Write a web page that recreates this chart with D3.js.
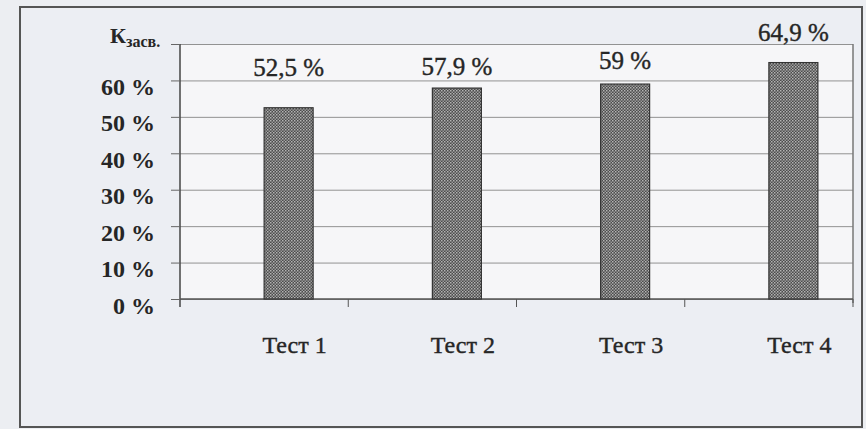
<!DOCTYPE html>
<html>
<head>
<meta charset="utf-8">
<script src="https://cdn.jsdelivr.net/npm/d3@7"></script>
<style>
  html, body { margin: 0; padding: 0; background: #eceef2; }
  svg { display: block; }
</style>
</head>
<body>
<svg id="chart" width="866" height="429" font-family="Liberation Serif, serif"></svg>
<script>
// data
const categories = ["Тест 1", "Тест 2", "Тест 3", "Тест 4"];
const values = [52.5, 57.9, 59, 64.9];
const valueLabels = ["52,5 %", "57,9 %", "59 %", "64,9 %"];
const yTicks = [0, 10, 20, 30, 40, 50, 60, 70];

// labels were placed by hand in the original, lift above bar top (px)
const labelLift = [32, 13, 15, 22];

const serif = "Liberation Serif, serif";
const ink = "#262626";
const svg = d3.select("#chart");
const plot = { left: 180, right: 853, top: 44, bottom: 299 };

const x = d3.scaleBand()
  .domain(categories)
  .range([plot.left, plot.right]);

const y = d3.scaleLinear()
  .domain([0, 70])
  .range([plot.bottom, plot.top]);

const barW = 49;

// pattern for the dotted bar fill
const defs = svg.append("defs");
const pat = defs.append("pattern")
  .attr("id", "dots")
  .attr("width", 3).attr("height", 3)
  .attr("patternUnits", "userSpaceOnUse");
pat.append("rect").attr("width", 3).attr("height", 3).attr("fill", "#4c4c4c");
pat.append("rect").attr("x", 0).attr("y", 0).attr("width", 1.5).attr("height", 1.5).attr("fill", "#b4b4b4");
pat.append("rect").attr("x", 1.5).attr("y", 1.5).attr("width", 1.5).attr("height", 1.5).attr("fill", "#9a9a9a");

// outer frame
svg.append("rect")
  .attr("x", 20).attr("y", 7)
  .attr("width", 842).attr("height", 420)
  .attr("fill", "#eceef3")
  .attr("stroke", "#555")
  .attr("stroke-width", 2);

// plot area
svg.append("rect")
  .attr("x", plot.left).attr("y", plot.top)
  .attr("width", plot.right - plot.left)
  .attr("height", plot.bottom - plot.top)
  .attr("fill", "#f6f6f8");

// gridlines
svg.append("g")
  .attr("transform", `translate(${plot.left},0)`)
  .call(d3.axisLeft(y).tickValues(yTicks).tickSize(-(plot.right - plot.left)).tickFormat(""))
  .call(g => g.select(".domain").remove())
  .call(g => g.selectAll(".tick line").attr("stroke", "#929292").attr("stroke-width", 1));

// right border of plot
svg.append("line")
  .attr("x1", plot.right).attr("x2", plot.right)
  .attr("y1", plot.top).attr("y2", plot.bottom + 4)
  .attr("stroke", "#777").attr("stroke-width", 1.5);

// y axis with ticks and labels
const yAxis = svg.append("g")
  .attr("transform", `translate(${plot.left},0)`)
  .call(d3.axisLeft(y).tickValues(yTicks).tickSize(9).tickPadding(16)
    .tickFormat(d => d === 70 ? "" : `${d} %`))
  .attr("font-family", serif);
yAxis.select(".domain").attr("stroke", "#444").attr("stroke-width", 1.5)
  .attr("d", `M0,${plot.top}V${plot.bottom + 8}`);
yAxis.selectAll(".tick line").attr("stroke", "#666");
yAxis.selectAll(".tick text")
  .attr("font-size", 24)
  .attr("font-weight", "bold")
  .attr("fill", ink)
  .attr("dy", null)
  .attr("y", 14);

// y axis title: K with subscript
const title = svg.append("text")
  .attr("x", 110).attr("y", 43)
  .attr("font-family", serif)
  .attr("font-weight", "bold")
  .attr("fill", ink);
title.append("tspan").attr("font-size", 22).text("К");
title.append("tspan").attr("font-size", 16).attr("dy", 4).text("засв.");

// x axis line and boundary ticks
svg.append("line")
  .attr("x1", plot.left).attr("x2", plot.right)
  .attr("y1", plot.bottom).attr("y2", plot.bottom)
  .attr("stroke", "#555").attr("stroke-width", 1.5);

svg.append("g")
  .selectAll("line")
  .data(categories.slice(1).concat([null]))
  .join("line")
  .attr("x1", d => d === null ? plot.right : x(d))
  .attr("x2", d => d === null ? plot.right : x(d))
  .attr("y1", plot.bottom)
  .attr("y2", plot.bottom + 8)
  .attr("stroke", "#555");

// bars
svg.append("g")
  .selectAll("rect")
  .data(values)
  .join("rect")
  .attr("x", (d, i) => x(categories[i]) + x.bandwidth() / 2)
  .attr("y", d => y(d))
  .attr("width", barW)
  .attr("height", d => y(0) - y(d))
  .attr("fill", "url(#dots)")
  .attr("stroke", "#333")
  .attr("stroke-width", 1.2);

// value labels
svg.append("g")
  .attr("font-family", serif)
  .selectAll("text")
  .data(values)
  .join("text")
  .attr("x", (d, i) => x(categories[i]) + x.bandwidth() / 2 + barW / 2)
  .attr("y", (d, i) => y(d) - labelLift[i])
  .attr("text-anchor", "middle")
  .attr("font-size", 25)
  .attr("fill", ink)
  .attr("stroke", ink)
  .attr("stroke-width", 0.4)
  .text((d, i) => valueLabels[i]);

// category labels
svg.append("g")
  .attr("font-family", serif)
  .selectAll("text")
  .data(categories)
  .join("text")
  .attr("x", d => x(d) + x.bandwidth() / 2 + barW / 2 + 6)
  .attr("y", 353)
  .attr("text-anchor", "middle")
  .attr("font-size", 24)
  .attr("fill", ink)
  .attr("stroke", ink)
  .attr("stroke-width", 0.4)
  .text(d => d);
</script>
</body>
</html>
